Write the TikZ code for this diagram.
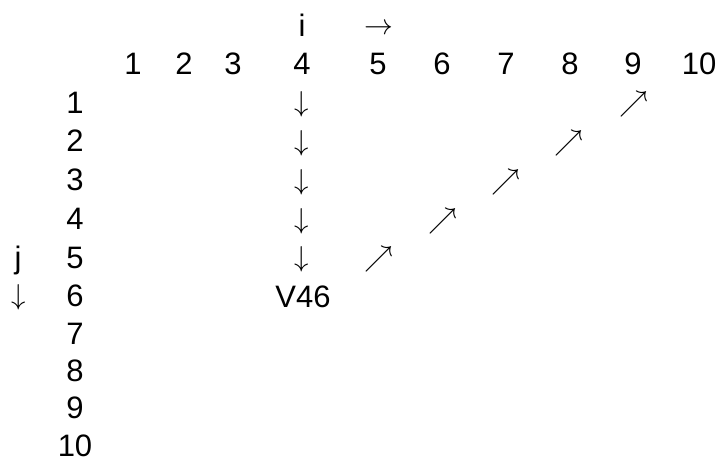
\documentclass[tikz,border=0pt]{standalone}
\usepackage{fontspec}
\setmainfont{Liberation Sans}
\begin{document}
\begin{tikzpicture}[x=0.5pt,y=-0.5pt,
  lab/.style={anchor=base,inner sep=0pt,font=\fontsize{15.5}{18}\selectfont},
  arr/.style={anchor=center,inner sep=0pt,font=\fontsize{14.6}{17}\selectfont}]
\useasboundingbox (0,0) rectangle (718,459);
\node[lab] (i) at (302,36.7) {i};
\node[arr] (iarrow) at (379,29) {$\rightarrow$};
\foreach \x [count=\n] in {133,184,233,302,378,442,506,570,633,699}
  \node[lab] (c\n) at (\x,75) {\n};
\foreach \y [count=\n] in {113.5,152,191,230,268.5,306.5,345,382,418.5,456.5}
  \node[lab] (r\n) at (75,\y) {\n};
\node[lab] (j) at (18,268.5) {j};
\node[arr] (jarrow) at (18.5,297) {$\downarrow$};
\foreach \y [count=\n] in {104.5,143.5,182,221,259.5}
  \node[arr] (d\n) at (302,\y) {$\downarrow$};
\node[lab] (v46) at (303,307.5) {V46};
\foreach \x/\y [count=\n] in {379/259.5,442.5/221,506/182,569/143.5,634/104.5}
  \node[arr] (ne\n) at (\x,\y) {$\nearrow$};
\end{tikzpicture}
\end{document}
